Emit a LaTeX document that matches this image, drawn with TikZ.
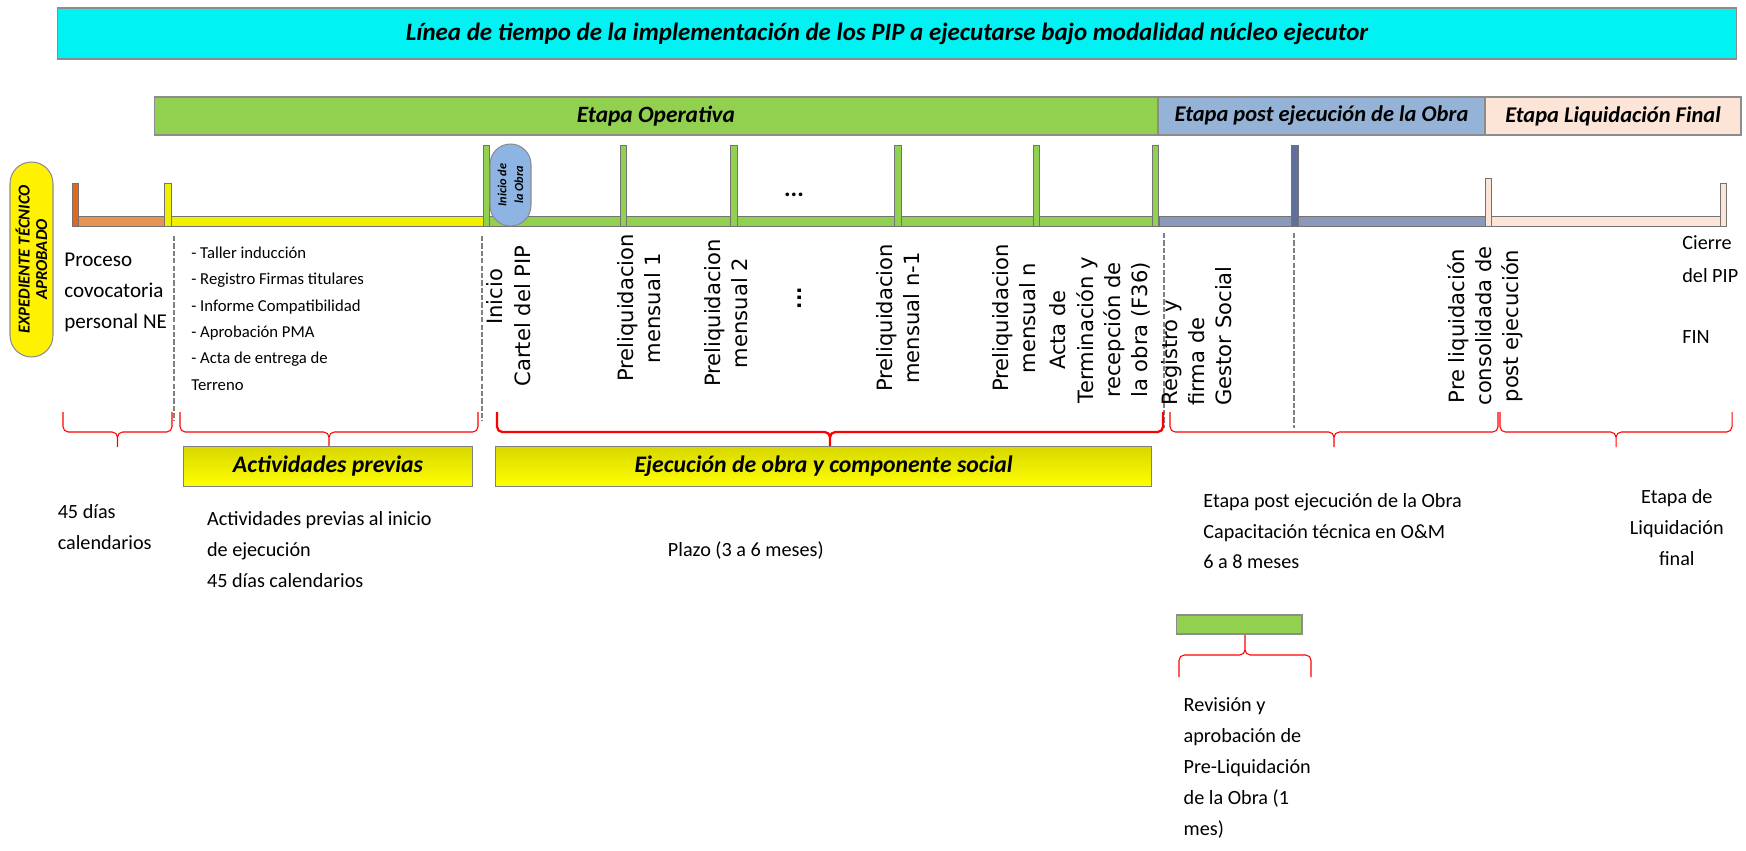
\documentclass[tikz,border=0pt]{standalone}
\usepackage{fontspec}
\setmainfont{Carlito}
\newfontfamily\verd{DejaVu Sans}
\usetikzlibrary{calc}

\definecolor{titlecyan}{RGB}{0,242,242}
\definecolor{opgreen}{RGB}{146,208,80}
\definecolor{postblue}{RGB}{149,179,215}
\definecolor{liqpeach}{RGB}{252,228,214}
\definecolor{tickorange}{RGB}{232,100,25}
\definecolor{barorange}{RGB}{230,148,85}
\definecolor{lineyellow}{RGB}{240,240,0}
\definecolor{slatebar}{RGB}{138,153,186}
\definecolor{slatetick}{RGB}{96,112,158}
\definecolor{obrablue}{RGB}{141,180,226}

\tikzset{
	stagebar/.style={draw=black!45, line width=0.6pt, inner sep=0pt,
		font=\fontsize{13.3}{16}\selectfont\bfseries\itshape},
	tickbar/.style={draw=black!55, line width=0.4pt},
	cutline/.style={black!50, line width=1.3pt, dash pattern=on 3pt off 1.2pt},
	bracepath/.style={red, line width=0.6pt, rounded corners=3pt},
	plaintext/.style={font=\fontsize{11.5}{17.6}\selectfont, inner sep=0pt, align=left, anchor=north west},
	listtext/.style={font=\fontsize{9.5}{15}\selectfont, inner sep=0pt, align=left, anchor=north west},
	milestone/.style={font=\verd\fontsize{12}{15.5}\selectfont, inner sep=0pt, align=center, rotate=90},
	yellowbox/.style={draw=black!50, line width=0.6pt, top color=lineyellow!90!black, bottom color=yellow,
		font=\fontsize{13.5}{16}\selectfont\bfseries\itshape, inner sep=0pt}
}

% brace opening downwards between two named points
\newcommand{\bracedown}[3][]{%
	\draw[bracepath,#1] (#2) |- ($(#2)!0.5!(#3)+(0,20)$) -- +(0,15)
		(#3) |- ($(#2)!0.5!(#3)+(0,20)$) -- +(0,15);}

\begin{document}
\begin{tikzpicture}[x=0.02cm, y=-0.02cm]
	\useasboundingbox (0,0) rectangle (1746,851);
	%title
		\node[stagebar, fill=titlecyan, minimum width=33.6cm, minimum height=1.02cm] (title) at (897,33.5) {};
		\node[font=\fontsize{14.2}{16}\selectfont\bfseries\itshape] (titletext) at (887,33.5)
			{Línea de tiempo de la implementación de los PIP a ejecutarse bajo modalidad núcleo ejecutor};
	%stages
		\node[stagebar, fill=opgreen, minimum width=20.08cm, minimum height=0.76cm] (operativa) at (656,116) {Etapa Operativa};
		\node[stagebar, fill=postblue, minimum width=6.54cm, minimum height=0.76cm, font=\fontsize{12.8}{16}\selectfont\bfseries\itshape] (postejec) at (1321.5,116) {Etapa post ejecución de la Obra};
		\node[stagebar, fill=liqpeach, minimum width=5.12cm, minimum height=0.76cm, font=\fontsize{12.8}{16}\selectfont\bfseries\itshape] (liqfinal) at (1613,116) {Etapa Liquidación Final};
	%expediente
		\node[stagebar, fill=yellow, rotate=90, rounded corners=0.43cm, minimum width=3.9cm, minimum height=0.86cm,
			align=center, font=\fontsize{9.5}{10}\selectfont\bfseries\itshape] (expediente) at (31.5,259.5) {EXPEDIENTE TÉCNICO\\APROBADO};
	%time line
		\draw[tickbar, fill=barorange] (72,216.7) rectangle (165,226.7);
		\draw[tickbar, fill=lineyellow] (165,216.7) rectangle (483,226.7);
		\draw[tickbar, fill=opgreen] (483,216.7) rectangle (1159,226.7);
		\draw[tickbar, fill=slatebar] (1159,216.7) rectangle (1485,226.7);
		\draw[tickbar, fill=liqpeach] (1485,216.7) rectangle (1726,226.7);
	%ticks
		\draw[tickbar, fill=tickorange] (72,183) rectangle (78.5,226.7);
		\draw[tickbar, fill=lineyellow] (164.6,183) rectangle (171,226.7);
		\foreach \x in {483,620,730.5,894.7,1033,1152}
			\draw[tickbar, fill=opgreen] (\x,145) rectangle (\x+6.5,226.7);
		\draw[tickbar, fill=slatetick] (1291.6,145) rectangle (1298.6,226.7);
		\draw[tickbar, fill=liqpeach] (1485,178.3) rectangle (1491.4,226.7);
		\draw[tickbar, fill=liqpeach] (1720,183.3) rectangle (1726,226.7);
		\node[stagebar, fill=obrablue, rotate=90, rounded corners=0.41cm, minimum width=1.64cm, minimum height=0.82cm,
			align=center, font=\fontsize{7}{9.5}\selectfont\bfseries\itshape] (obra) at (510.5,185) {Inicio de\\la Obra};
		\node[font=\fontsize{14}{16}\selectfont\bfseries] (dotsa) at (794,195) {...};
	%cuts
		\draw[cutline] (174,236) -- (174,421);
		\draw[cutline] (482,236) -- (482,421);
		\draw[cutline] (1164,233) -- (1164,428);
		\draw[cutline] (1294,233) -- (1294,428);
	%labels under the line
		\node[plaintext, font=\fontsize{12}{17.6}\selectfont] (proceso) at (64,253) {Proceso\\covocatoria\\personal NE};
		\node[listtext] (previas) at (191,246.5) {- Taller inducción\\- Registro Firmas titulares\\- Informe Compatibilidad\\- Aprobación PMA\\- Acta de entrega de\\Terreno};
		\node[milestone] (inicio) at (494.5,297) {Inicio};
		\node[milestone] (cartel) at (523,316) {Cartel del PIP};
		\node[milestone] (prel1) at (639.5,308) {Preliquidacion\\mensual 1};
		\node[milestone] (prel2) at (726.5,313) {Preliquidacion\\mensual 2};
		\node[milestone, font=\verd\bfseries\fontsize{11}{16}\selectfont] (dotsb) at (800,298) {...};
		\node[milestone] (preln1) at (898.5,318) {Preliquidacion\\mensual n-1};
		\node[milestone] (preln) at (1014.5,318) {Preliquidacion\\mensual n};
		\node[milestone] (acta) at (1100,330) {Acta de\\Terminación y\\recepción de\\la obra (F36)};
		\node[milestone, align=left, anchor=west] (registro) at (1196.5,406) {Registro y\\firma de\\Gestor Social};
		\node[milestone] (consol) at (1485.5,326) {Pre liquidación\\consolidada de\\post ejecución};
		\node[plaintext, font=\fontsize{11.5}{19.2}\selectfont] (cierre) at (1682,235) {Cierre\\del PIP};
		\node[plaintext] (fin) at (1682,330) {FIN};
	%braces
		\coordinate (b1l) at (63,412);
		\coordinate (b1r) at (172,412);
		\coordinate (b2l) at (180,412);
		\coordinate (b2r) at (478,412);
		\coordinate (b3l) at (497,412);
		\coordinate (b3r) at (1163,412);
		\coordinate (b4l) at (1170,412);
		\coordinate (b4r) at (1498,412);
		\coordinate (b5l) at (1500,412);
		\coordinate (b5r) at (1732,412);
		\bracedown{b1l}{b1r}
		\bracedown{b2l}{b2r}
		\bracedown[line width=1.3pt]{b3l}{b3r}
		\bracedown{b4l}{b4r}
		\bracedown{b5l}{b5r}
	%phases
		\node[yellowbox, minimum width=5.79cm, minimum height=0.79cm] (actprev) at (328,466.5) {Actividades previas};
		\node[yellowbox, minimum width=13.13cm, minimum height=0.79cm] (ejecucion) at (823.7,466.5) {Ejecución de obra y componente social};
		\node[plaintext] (dias) at (57.4,504.3) {45 días\\calendarios};
		\node[plaintext] (actdesc) at (206.7,511) {Actividades previas al inicio\\de ejecución\\45 días calendarios};
		\node[plaintext] (plazo) at (667.6,541) {Plazo (3 a 6 meses)};
		\node[plaintext] (postdesc) at (1203,492.7) {Etapa post ejecución de la Obra\\Capacitación técnica en O\&M\\6 a 8 meses};
		\node[plaintext, align=center, anchor=north] (liqdesc) at (1676.8,489) {Etapa de\\Liquidación\\final};
	%revision
		\node[stagebar, fill=opgreen, minimum width=2.52cm, minimum height=0.38cm] (revbox) at (1239,624.5) {};
		\coordinate (revl) at (1179,677);
		\coordinate (revr) at (1311,677);
		\draw[bracepath] (revl) |- ($(revl)!0.5!(revr)+(0,-22)$) -- +(0,-20)
			(revr) |- ($(revl)!0.5!(revr)+(0,-22)$) -- +(0,-20);
		\node[plaintext] (revdesc) at (1183.3,697.7) {Revisión y\\aprobación de\\Pre-Liquidación\\de la Obra (1\\mes)};
\end{tikzpicture}
\end{document}
